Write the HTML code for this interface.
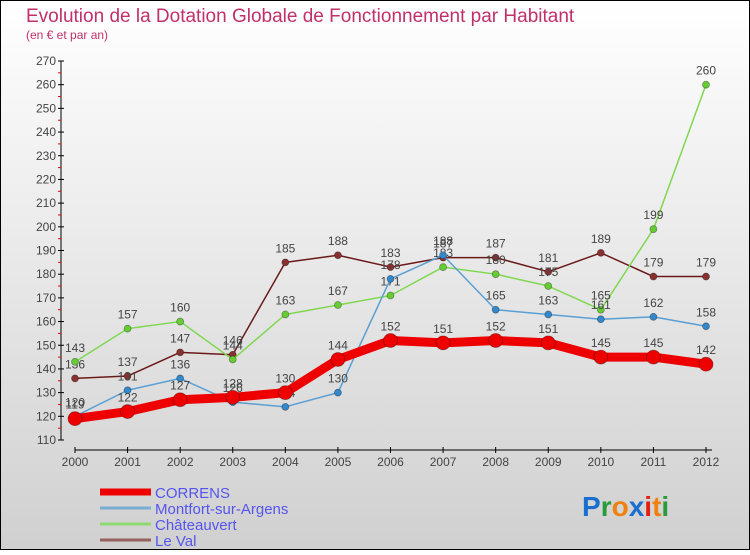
<!DOCTYPE html>
<html><head><meta charset="utf-8"><style>
body{margin:0;width:750px;height:550px;overflow:hidden;font-family:"Liberation Sans",sans-serif}
</style></head><body>
<svg id="c" width="750" height="550" xmlns="http://www.w3.org/2000/svg">
<defs><linearGradient id="bg" x1="0" y1="0" x2="0" y2="1"><stop offset="0" stop-color="#ffffff"/><stop offset="1" stop-color="#d0d0d0"/></linearGradient></defs>
<rect x="0.5" y="0.5" width="749" height="549" fill="url(#bg)" stroke="#000"/>
<text x="26" y="22" font-size="19" fill="#c0306a">Evolution de la Dotation Globale de Fonctionnement par Habitant</text>
<text x="26" y="39" font-size="12" fill="#c0306a">(en € et par an)</text>
<g id="axes"></g><g id="series"></g><g id="legend"></g>
<text x="582" y="516" font-size="28" font-weight="bold"><tspan fill="#1a6fd0">P</tspan><tspan fill="#2a9a3a">r</tspan><tspan fill="#f08010">o</tspan><tspan fill="#1a6fd0">x</tspan><tspan fill="#e02010">i</tspan><tspan fill="#f08010">t</tspan><tspan fill="#2a9a3a">i</tspan></text>
</svg>
<script>
const years=[2000,2001,2002,2003,2004,2005,2006,2007,2008,2009,2010,2011,2012];
const yTicks=[110,120,130,140,150,160,170,180,190,200,210,220,230,240,250,260,270];
const correns=[119,122,127,128,130,144,152,151,152,151,145,145,142];
const montfort=[120,131,136,126,124,130,178,188,165,163,161,162,158];
const chateauvert=[143,157,160,144,163,167,171,183,180,175,165,199,260];
const leval=[136,137,147,146,185,188,183,187,187,181,189,179,179];
const seriesNames=["CORRENS","Montfort-sur-Argens","Châteauvert","Le Val"];
const NS="http://www.w3.org/2000/svg";
function X(i){return 75+i*(706-75)/(years.length-1);}
function Y(v){return 61+(270-v)*(440-61)/160;}
function mk(t,a,p){const e=document.createElementNS(NS,t);for(const k in a)e.setAttribute(k,a[k]);p.appendChild(e);return e;}
const ax=document.getElementById('axes');
let l=mk('line',{x1:61,y1:61,x2:61,y2:440,stroke:'#000'},ax);

l=mk('line',{x1:75,y1:450,x2:712,y2:450,stroke:'#000'},ax);

yTicks.forEach(v=>{const y=Y(v);mk('line',{x1:58,y1:y,x2:64,y2:y,stroke:'#000'},ax);
 if(v<270)mk('line',{x1:58,y1:Y(v+5),x2:61,y2:Y(v+5),stroke:'#e00'},ax);
 const t=mk('text',{x:56,y:y+4,'font-size':12,fill:'#444','text-anchor':'end'},ax);t.textContent=v;
 });
years.forEach((yr,i)=>{const x=X(i);mk('line',{x1:x,y1:447,x2:x,y2:453,stroke:'#000'},ax);
 const t=mk('text',{x:x,y:466,'font-size':12,fill:'#444','text-anchor':'middle'},ax);t.textContent=yr;
 });
const sg=document.getElementById('series');
const defs=[[leval,'#6b1a1a','#8a3030',1.5,3.5,'le-val'],[chateauvert,'#80d850','#66cc33',1.5,3.5,'chateauvert'],[montfort,'#5a9fd4','#3388cc',1.5,3.5,'montfort-sur-argens'],[correns,'#ee0000','#ee0000',9,7,'correns']];
defs.forEach(([d,lc,pc,w,r,nm])=>{const g=mk('g',{},sg);
 
 const p=mk('polyline',{points:d.map((v,i)=>X(i)+','+Y(v)).join(' '),fill:'none',stroke:lc,'stroke-width':w,'stroke-linejoin':'round'},g);
 
 d.forEach((v,i)=>{const c=mk('circle',{cx:X(i),cy:Y(v),r:r,fill:pc,stroke:'rgba(0,0,0,0.35)','stroke-width':0.8},g);
  
  const t=mk('text',{x:X(i),y:Y(v)-10,'font-size':12,fill:'#444','text-anchor':'middle'},g);t.textContent=v;
  });});
const lg=document.getElementById('legend');
const lcol=['#ee0000','#7aaed0','#90d870','#956060'],lw=[7,3,3,3];
seriesNames.forEach((n,i)=>{const y=492+i*16;
 const ln=mk('line',{x1:100,y1:y,x2:151,y2:y,stroke:lcol[i],'stroke-width':lw[i]},lg);
 
 const t=mk('text',{x:155,y:y+6,'font-size':15,fill:'#5555ee'},lg);t.textContent=n;
 });
</script>
</body></html>
